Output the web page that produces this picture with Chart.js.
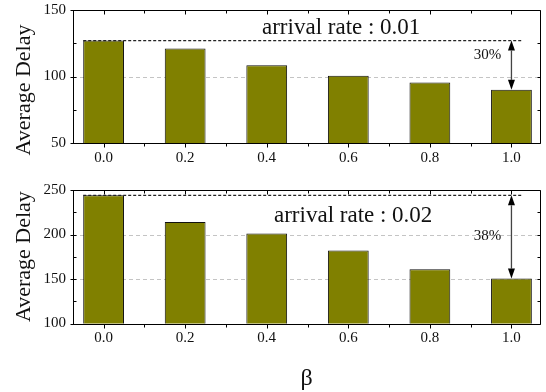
<!DOCTYPE html>
<html>
<head>
<meta charset="utf-8">
<script src="https://cdn.jsdelivr.net/npm/chart.js@4.4.0/dist/chart.umd.min.js"></script>
<style>
  html, body { margin: 0; padding: 0; background: #fff; }
  #wrap { position: relative; width: 546px; height: 392px; }
  #wrap canvas { position: absolute; left: 0; }
</style>
</head>
<body>
<div id="wrap">
  <canvas id="delayRateLow" width="546" height="170" style="top:0"></canvas>
  <canvas id="delayRateHigh" width="546" height="222" style="top:170px"></canvas>
</div>
<script>
// --- data ---
const betaValues = [0.0, 0.2, 0.4, 0.6, 0.8, 1.0];
const delayRate001 = [127, 121, 108.5, 100.5, 95.5, 90];
const delayRate002 = [244, 214, 201, 182, 161, 150.5];

const xTicks = [0.0, 0.2, 0.4, 0.6, 0.8, 1.0];
const xMinorTicks = [0.1, 0.3, 0.5, 0.7, 0.9];
const yTicksLow = [50, 100, 150];
const yMinorLow = [75, 125];
const yTicksHigh = [100, 150, 200, 250];
const yMinorHigh = [125, 175, 225];

const rateLabels = ['arrival rate : 0.01', 'arrival rate : 0.02'];
const dropLabels = ['30%', '38%'];

const serif = 'Liberation Serif';
const ink = '#111';
const olive = '#808000';

// frame, inner ticks, dashed grid, reference line + arrow, texts
const decorPlugin = {
  id: 'decor',
  beforeDatasetsDraw(chart, args, opts) {
    const { ctx, chartArea: a, scales: { y } } = chart;
    ctx.save();
    ctx.strokeStyle = '#c4c4c4';
    ctx.lineWidth = 1;
    ctx.setLineDash([4, 3]);
    opts.majorY.forEach(v => {
      if (v === y.min || v === y.max) return;
      const py = Math.round(y.getPixelForValue(v)) + 0.5;
      ctx.beginPath(); ctx.moveTo(a.left, py); ctx.lineTo(a.right, py); ctx.stroke();
    });
    ctx.restore();
  },
  afterDatasetsDraw(chart, args, opts) {
    const { ctx, chartArea: a, scales: { x, y } } = chart;
    const vals = chart.data.datasets[0].data;
    const bars = chart.getDatasetMeta(0).data;
    const first = vals[0].y, last = vals[vals.length - 1].y;
    const yTop = y.getPixelForValue(first);
    const yBot = y.getPixelForValue(last);
    const xArrow = bars[bars.length - 1].x;

    ctx.save();
    // reference line at the first bar's height
    ctx.strokeStyle = '#222';
    ctx.lineWidth = 1.2;
    ctx.setLineDash([3, 2]);
    ctx.beginPath();
    ctx.moveTo(bars[0].x - bars[0].width / 2, yTop);
    ctx.lineTo(x.getPixelForValue(opts.lineEnd), yTop);
    ctx.stroke();
    ctx.setLineDash([]);

    // double-headed arrow
    const head = 10, half = 3.5;
    ctx.strokeStyle = '#444';
    ctx.lineWidth = 1.3;
    ctx.beginPath(); ctx.moveTo(xArrow, yTop + head); ctx.lineTo(xArrow, yBot - head); ctx.stroke();
    ctx.fillStyle = '#000';
    ctx.beginPath();
    ctx.moveTo(xArrow, yTop); ctx.lineTo(xArrow - half, yTop + head); ctx.lineTo(xArrow + half, yTop + head);
    ctx.closePath(); ctx.fill();
    ctx.beginPath();
    ctx.moveTo(xArrow, yBot); ctx.lineTo(xArrow - half, yBot - head); ctx.lineTo(xArrow + half, yBot - head);
    ctx.closePath(); ctx.fill();

    // frame
    const L = Math.round(a.left) + 0.5, R = Math.round(a.right) + 0.5;
    const T = Math.round(a.top) + 0.5, B = Math.round(a.bottom) + 0.5;
    ctx.strokeStyle = '#000';
    ctx.lineWidth = 1;
    ctx.beginPath();
    ctx.moveTo(L, T); ctx.lineTo(R, T); ctx.lineTo(R, B); ctx.lineTo(L, B); ctx.closePath();
    ctx.stroke();

    // ticks
    ctx.beginPath();
    const xt = (v, len) => {
      const px = Math.round(x.getPixelForValue(v)) + 0.5;
      ctx.moveTo(px, B); ctx.lineTo(px, B + len);
      ctx.moveTo(px, T); ctx.lineTo(px, T + len);
    };
    xTicks.forEach(v => xt(v, 4));
    xMinorTicks.forEach(v => xt(v, 3));
    const yt = (v, outL, len) => {
      const py = Math.round(y.getPixelForValue(v)) + 0.5;
      ctx.moveTo(L - outL, py); ctx.lineTo(L + len, py);
      ctx.moveTo(R, py); ctx.lineTo(R - len, py);
    };
    opts.majorY.forEach(v => yt(v, 3, 3));
    opts.minorY.forEach(v => yt(v, 0, 3));
    ctx.stroke();

    // labels
    ctx.fillStyle = ink;
    ctx.font = '23px "' + serif + '"';
    ctx.textAlign = 'left';
    ctx.textBaseline = 'alphabetic';
    ctx.fillText(opts.rateText, opts.rateX, opts.rateY);

    ctx.font = '15px "' + serif + '"';
    ctx.textAlign = 'center';
    ctx.textBaseline = 'middle';
    ctx.fillText(opts.dropText, xArrow - 24, y.getPixelForValue(opts.dropAt));

    ctx.save();
    ctx.translate(24, opts.titleY);
    ctx.rotate(-Math.PI / 2);
    ctx.font = '22px "' + serif + '"';
    ctx.textAlign = 'center';
    ctx.textBaseline = 'middle';
    ctx.fillText('Average Delay', 0, 0);
    ctx.restore();

    if (opts.showBeta) {
      ctx.font = '24px "' + serif + '"';
      ctx.textAlign = 'center';
      ctx.textBaseline = 'alphabetic';
      ctx.fillText('β', (a.left + a.right) / 2, opts.betaY);
    }
    ctx.restore();
  }
};

function makeDelayChart(canvasId, values, yMin, yMax, padTop, xAxisHeight, decor) {
  return new Chart(document.getElementById(canvasId), {
    type: 'bar',
    data: {
      datasets: [{
        data: betaValues.map((b, i) => ({ x: b, y: values[i] })),
        backgroundColor: olive,
        borderColor: '#111',
        borderWidth: 1,
        barPercentage: 0.5,
        categoryPercentage: 1.0
      }]
    },
    options: {
      responsive: false,
      devicePixelRatio: 1,
      animation: false,
      layout: { padding: { top: padTop, right: 6, left: 0, bottom: 0 } },
      plugins: { legend: { display: false }, tooltip: { enabled: false }, decor: decor },
      scales: {
        x: {
          type: 'linear', min: -0.075, max: 1.07, offset: false,
          grid: { display: false, offset: false, drawTicks: false }, border: { display: false },
          afterBuildTicks: s => { s.ticks = xTicks.map(v => ({ value: v })); },
          afterFit: s => { s.height = xAxisHeight; s.paddingLeft = 0; s.paddingRight = 0; },
          ticks: { callback: v => v.toFixed(1), font: { family: serif, size: 15 }, color: ink, padding: 6, maxRotation: 0, autoSkip: false }
        },
        y: {
          min: yMin, max: yMax,
          grid: { display: false, drawTicks: false }, border: { display: false },
          afterBuildTicks: s => { s.ticks = decor.majorY.map(v => ({ value: v })); },
          afterFit: s => { s.width = 73; s.paddingTop = 0; s.paddingBottom = 0; },
          ticks: { font: { family: serif, size: 15 }, color: ink, padding: 7 }
        }
      }
    },
    plugins: [decorPlugin]
  });
}

makeDelayChart('delayRateLow', delayRate001, 50, 150, 10, 27, {
  majorY: yTicksLow, minorY: yMinorLow, lineEnd: 1.026,
  rateText: rateLabels[0], rateX: 262, rateY: 33.5,
  dropText: dropLabels[0], dropAt: 116, titleY: 90, showBeta: false
});

makeDelayChart('delayRateHigh', delayRate002, 100, 250, 20, 68.5, {
  majorY: yTicksHigh, minorY: yMinorHigh, lineEnd: 1.026,
  rateText: rateLabels[1], rateX: 274, rateY: 52,
  dropText: dropLabels[1], dropAt: 198, titleY: 86.6, showBeta: true, betaY: 215
});
</script>
</body>
</html>
